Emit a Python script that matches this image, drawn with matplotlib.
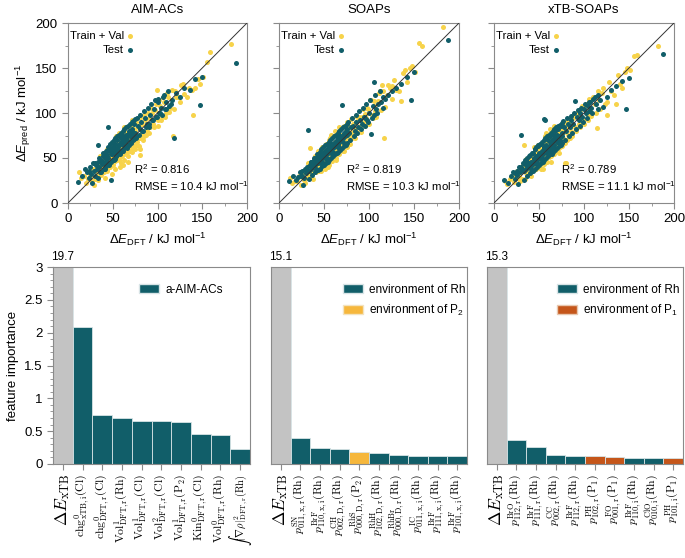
import matplotlib
matplotlib.use('Agg')
import matplotlib.pyplot as plt
from matplotlib.ticker import MultipleLocator
from matplotlib.patches import Patch

plt.rcParams['font.family'] = ['Liberation Sans', 'DejaVu Sans']
plt.rcParams['mathtext.fontset'] = 'custom'
plt.rcParams['mathtext.rm'] = 'Liberation Sans'
plt.rcParams['mathtext.it'] = 'Liberation Sans:italic'
plt.rcParams['mathtext.bf'] = 'Liberation Sans:bold'

# ---------------- data ----------------
titles = ['AIM-ACs', 'SOAPs', 'xTB-SOAPs']
r2_vals = ['0.816', '0.819', '0.789']
rmse_vals = ['10.4', '10.3', '11.1']

train_x = [12, 14, 18, 20, 22, 24, 25, 27, 28, 30,
           31, 32, 33, 34, 35, 36, 37, 38, 39, 40,
           40, 41, 42, 43, 44, 45, 45, 46, 47, 48,
           48, 49, 50, 50, 51, 52, 53, 54, 55, 55,
           56, 57, 58, 59, 60, 60, 61, 62, 63, 64,
           65, 65, 66, 67, 68, 69, 70, 70, 71, 72,
           73, 74, 75, 76, 77, 78, 79, 80, 81, 82,
           83, 85, 86, 88, 90, 92, 94, 95, 97, 99,
           101, 103, 105, 107, 110, 112, 114, 117, 120, 123,
           126, 130, 135, 140, 145, 148, 151, 155, 159, 182]

train_y_aim = [35, 28, 30, 22, 27, 33, 30, 24, 38, 27,
               36, 41, 30, 44, 33, 40, 31, 46, 37, 42,
               35, 48, 39, 45, 38, 52, 43, 40, 50, 44,
               55, 46, 42, 57, 49, 60, 47, 56, 50, 63,
               53, 48, 62, 55, 66, 52, 58, 64, 54, 70,
               60, 66, 57, 72, 63, 58, 74, 65, 61, 78,
               68, 62, 80, 70, 64, 84, 72, 60, 53, 77,
               88, 75, 92, 80, 95, 84, 100, 88, 103, 126,
               92, 108, 97, 112, 100, 118, 106, 74, 124, 118,
               131, 121, 128, 98, 138, 132, 140, 157, 168, 177]

train_y_soap = [28, 22, 25, 24, 30, 20, 29, 33, 26, 35,
                28, 37, 31, 61, 34, 30, 42, 36, 44, 39,
                46, 38, 45, 41, 50, 43, 48, 52, 44, 50,
                46, 55, 49, 53, 58, 48, 56, 51, 60, 54,
                59, 62, 53, 64, 57, 63, 66, 58, 68, 61,
                67, 70, 62, 72, 65, 74, 68, 76, 73, 66,
                78, 72, 80, 70, 82, 75, 84, 78, 76, 86,
                80, 90, 82, 92, 86, 96, 90, 99, 94, 104,
                115, 98, 108, 102, 113, 124, 131, 72, 120, 128,
                130, 126, 113, 148, 150, 152, 146, 178, 175, 196]

train_y_xtb = [24, 21, 27, 30, 23, 33, 28, 35, 30, 38,
               27, 36, 64, 40, 33, 44, 38, 46, 35, 48,
               42, 37, 50, 45, 40, 53, 47, 55, 44, 51,
               58, 47, 54, 45, 60, 50, 57, 62, 48, 65,
               56, 60, 52, 66, 58, 70, 55, 68, 63, 59,
               72, 62, 68, 75, 60, 70, 78, 66, 74, 80,
               70, 77, 66, 83, 72, 79, 45, 45, 84, 76,
               90, 80, 86, 94, 84, 98, 88, 103, 96, 92,
               108, 99, 112, 104, 118, 110, 83, 115, 122, 110,
               98, 124, 110, 132, 146, 150, 148, 163, 165, 175]

train_x2 = [26, 29, 32, 34, 36, 38, 40, 41, 43, 44,
            46, 47, 48, 49, 50, 51, 52, 53, 54, 55,
            56, 57, 58, 59, 60, 61, 62, 63, 64, 65,
            66, 67, 68, 69, 70, 71, 72, 73, 74, 75,
            76, 77, 78, 79, 80, 81, 82, 84, 85, 87,
            89, 91, 93, 96, 98, 100, 102, 104, 106, 108,
            111, 113, 116, 118, 121, 125, 128, 133, 138, 142,
            44, 52, 58, 63, 67, 72, 57, 62, 49, 54]

train_y2_aim = [38, 20, 37, 26, 52, 33, 47, 28, 55, 36,
                58, 40, 51, 64, 44, 61, 38, 66, 48, 60,
                72, 50, 69, 45, 74, 55, 71, 48, 79, 58,
                75, 52, 84, 62, 80, 57, 86, 64, 82, 60,
                90, 68, 86, 63, 94, 72, 88, 70, 98, 76,
                100, 78, 106, 84, 110, 86, 114, 92, 118, 96,
                122, 101, 126, 104, 118, 112, 132, 118, 126, 128,
                60, 70, 40, 84, 46, 92, 78, 42, 32, 74]

train_y2_soap = [34, 22, 45, 28, 40, 27, 52, 35, 58, 36,
                 50, 36, 62, 42, 57, 38, 66, 45, 59, 42,
                 70, 49, 63, 47, 74, 52, 68, 50, 79, 56,
                 72, 54, 83, 60, 76, 58, 86, 64, 80, 62,
                 90, 68, 84, 66, 93, 72, 88, 72, 97, 78,
                 96, 79, 105, 86, 106, 88, 114, 95, 113, 96,
                 122, 103, 124, 107, 131, 116, 137, 124, 144, 134,
                 58, 40, 76, 48, 84, 58, 72, 80, 62, 40]

train_y2_xtb = [36, 25, 42, 27, 49, 32, 46, 30, 56, 37,
                54, 38, 60, 41, 58, 40, 64, 44, 61, 43,
                68, 48, 66, 46, 72, 51, 70, 52, 76, 54,
                74, 55, 80, 58, 78, 60, 84, 62, 82, 63,
                88, 66, 86, 67, 90, 70, 89, 72, 95, 75,
                98, 80, 102, 84, 108, 88, 110, 92, 116, 97,
                118, 100, 125, 105, 128, 112, 134, 120, 142, 128,
                62, 38, 78, 46, 86, 56, 74, 82, 64, 38]

test_x = [11, 16, 19, 21, 23, 25, 26, 28, 29, 30,
          31, 32, 33, 34, 35, 36, 37, 38, 39, 40,
          41, 42, 43, 44, 45, 46, 47, 48, 49, 50,
          51, 52, 53, 54, 55, 56, 57, 58, 59, 60,
          61, 62, 63, 64, 65, 66, 67, 68, 69, 70,
          71, 72, 73, 74, 75, 76, 78, 80, 82, 84,
          86, 88, 90, 92, 94, 96, 98, 100, 102, 104,
          106, 108, 110, 113, 116, 118, 121, 125, 130, 136,
          142, 147, 150, 48, 58, 62, 66, 45, 188, 105]

test_y_aim = [23, 30, 38, 34, 28, 40, 32, 44, 36, 30,
              42, 38, 65, 46, 40, 35, 48, 43, 52, 45,
              38, 55, 47, 58, 50, 44, 60, 26, 55, 62,
              48, 66, 57, 52, 70, 60, 64, 56, 72, 66,
              58, 74, 68, 62, 76, 70, 65, 80, 74, 68,
              82, 76, 70, 88, 78, 72, 86, 82, 90, 80,
              95, 88, 84, 98, 92, 104, 96, 112, 100, 106,
              118, 104, 112, 108, 115, 72, 122, 118, 128, 126,
              138, 109, 140, 58, 76, 70, 61, 84, 156, 98]

test_y_soap = [24, 30, 26, 29, 34, 30, 36, 28, 38, 33,
               40, 81, 36, 42, 38, 46, 40, 44, 48, 42,
               50, 46, 44, 52, 48, 54, 50, 46, 56, 52,
               58, 54, 60, 56, 62, 58, 64, 60, 66, 62,
               62, 68, 64, 70, 66, 72, 68, 74, 70, 109,
               72, 78, 74, 80, 76, 82, 78, 84, 86, 80,
               90, 84, 92, 88, 96, 94, 92, 100, 77, 108,
               134, 104, 110, 112, 118, 116, 120, 124, 128, 132,
               140, 115, 146, 50, 56, 66, 62, 50, 181, 98]

test_y_xtb = [26, 22, 30, 34, 27, 36, 31, 40, 34, 76,
              38, 44, 36, 48, 42, 38, 50, 44, 40, 53,
              46, 42, 56, 49, 45, 60, 52, 48, 63, 55,
              50, 66, 58, 54, 93, 60, 92, 64, 58, 70,
              62, 74, 66, 60, 76, 70, 64, 80, 72, 68,
              82, 75, 70, 86, 78, 74, 84, 80, 88, 84,
              92, 88, 113, 96, 92, 100, 96, 104, 100, 108,
              112, 106, 116, 110, 120, 114, 107, 118, 126, 130,
              136, 104, 139, 52, 60, 58, 70, 48, 166, 102]

test_x2 = [24, 27, 30, 33, 35, 37, 39, 40, 42, 43,
           45, 46, 47, 48, 49, 50, 51, 52, 53, 54,
           55, 56, 57, 58, 59, 60, 61, 62, 63, 64,
           65, 66, 67, 68, 69, 70, 71, 72, 73, 74,
           75, 76, 77, 79, 81, 83, 85, 87, 89, 91,
           93, 95, 97, 99, 101, 103, 107, 109, 112, 115,
           44, 47, 50, 53, 56, 59, 62, 65, 68, 71,
           38, 41, 57, 60, 64, 52, 55, 48, 70, 66]

test_y2_aim = [36, 22, 44, 28, 50, 34, 56, 38, 58, 41,
               62, 42, 66, 46, 68, 48, 70, 49, 72, 52,
               74, 54, 76, 55, 78, 58, 80, 60, 82, 62,
               84, 64, 86, 65, 88, 67, 90, 70, 91, 71,
               93, 74, 95, 76, 98, 80, 102, 84, 106, 88,
               110, 92, 114, 96, 116, 100, 120, 104, 124, 110,
               52, 58, 62, 60, 64, 68, 70, 72, 78, 80,
               46, 50, 64, 67, 72, 58, 61, 54, 77, 74]

test_y2_soap = [30, 20, 38, 27, 46, 31, 50, 34, 54, 37,
                57, 38, 60, 41, 62, 42, 64, 44, 66, 46,
                68, 48, 70, 50, 72, 52, 74, 54, 76, 56,
                78, 57, 80, 59, 82, 61, 84, 63, 86, 65,
                88, 67, 90, 70, 94, 74, 98, 78, 102, 82,
                106, 86, 110, 90, 114, 94, 120, 100, 124, 106,
                50, 44, 55, 50, 61, 56, 67, 62, 73, 68,
                42, 38, 62, 57, 69, 49, 60, 45, 75, 63]

test_y2_xtb = [32, 21, 40, 26, 48, 30, 52, 33, 56, 36,
               60, 38, 62, 40, 64, 42, 66, 44, 68, 46,
               70, 48, 72, 50, 74, 52, 76, 54, 78, 55,
               80, 57, 82, 59, 84, 61, 86, 63, 87, 65,
               89, 67, 91, 70, 94, 74, 97, 78, 100, 82,
               103, 86, 106, 90, 110, 94, 112, 100, 118, 104,
               50, 44, 56, 50, 62, 56, 68, 62, 74, 68,
               44, 38, 63, 57, 70, 49, 61, 45, 76, 63]

train_ys = [train_y_aim, train_y_soap, train_y_xtb]
train_y2s = [train_y2_aim, train_y2_soap, train_y2_xtb]
test_ys = [test_y_aim, test_y_soap, test_y_xtb]
test_y2s = [test_y2_aim, test_y2_soap, test_y2_xtb]

# feature importance
feat_aim = ['$\\Delta E_{\\mathrm{xTB}}$',
            '$\\mathrm{chg}^0_{\\mathrm{xTB,i}}(\\mathrm{Cl})$',
            '$\\mathrm{chg}^0_{\\mathrm{DFT,r}}(\\mathrm{Cl})$',
            '$\\mathrm{Vol}^1_{\\mathrm{DFT,r}}(\\mathrm{Rh})$',
            '$\\mathrm{Vol}^1_{\\mathrm{DFT,r}}(\\mathrm{Cl})$',
            '$\\mathrm{Vol}^2_{\\mathrm{DFT,r}}(\\mathrm{Cl})$',
            '$\\mathrm{Vol}^1_{\\mathrm{DFT,r}}(\\mathrm{P}_2)$',
            '$\\mathrm{Kin}^0_{\\mathrm{DFT,r}}(\\mathrm{Cl})$',
            '$\\mathrm{Vol}^0_{\\mathrm{DFT,r}}(\\mathrm{Rh})$',
            '$\\int|\\nabla\\rho|^2_{\\mathrm{DFT,r}}(\\mathrm{Rh})$']
imp_aim = [19.7, 2.08, 0.74, 0.70, 0.66, 0.655, 0.635, 0.455, 0.445, 0.23]
grp_aim = ['xtb', 'Rh', 'Rh', 'Rh', 'Rh', 'Rh', 'Rh', 'Rh', 'Rh', 'Rh']

feat_soap = ['$\\Delta E_{\\mathrm{xTB}}$',
             '$p^{\\mathrm{SN}}_{011,\\mathrm{x,r}}(\\mathrm{Rh})$',
             '$p^{\\mathrm{BrF}}_{110,\\mathrm{x,i}}(\\mathrm{Rh})$',
             '$p^{\\mathrm{CH}}_{002,\\mathrm{D,r}}(\\mathrm{Rh})$',
             '$p^{\\mathrm{RhS}}_{000,\\mathrm{D,r}}(\\mathrm{P}_2)$',
             '$p^{\\mathrm{RhH}}_{102,\\mathrm{D,r}}(\\mathrm{Rh})$',
             '$p^{\\mathrm{RhBr}}_{000,\\mathrm{D,r}}(\\mathrm{Rh})$',
             '$p^{\\mathrm{IC}}_{011,\\mathrm{x,i}}(\\mathrm{Rh})$',
             '$p^{\\mathrm{BrF}}_{111,\\mathrm{x,i}}(\\mathrm{Rh})$',
             '$p^{\\mathrm{BrF}}_{101,\\mathrm{x,i}}(\\mathrm{Rh})$']
imp_soap = [15.1, 0.40, 0.24, 0.23, 0.19, 0.16, 0.13, 0.12, 0.12, 0.117]
grp_soap = ['xtb', 'Rh', 'Rh', 'Rh', 'P2', 'Rh', 'Rh', 'Rh', 'Rh', 'Rh']

feat_xtb = ['$\\Delta E_{\\mathrm{xTB}}$',
            '$p^{\\mathrm{BrO}}_{112,\\mathrm{r}}(\\mathrm{Rh})$',
            '$p^{\\mathrm{BrF}}_{111,\\mathrm{r}}(\\mathrm{Rh})$',
            '$p^{\\mathrm{CC}}_{002,\\mathrm{r}}(\\mathrm{Rh})$',
            '$p^{\\mathrm{BrF}}_{112,\\mathrm{r}}(\\mathrm{Rh})$',
            '$p^{\\mathrm{PH}}_{102,\\mathrm{r}}(\\mathrm{P}_1)$',
            '$p^{\\mathrm{FO}}_{001,\\mathrm{r}}(\\mathrm{P}_1)$',
            '$p^{\\mathrm{BrF}}_{110,\\mathrm{i}}(\\mathrm{Rh})$',
            '$p^{\\mathrm{ClO}}_{010,\\mathrm{i}}(\\mathrm{Rh})$',
            '$p^{\\mathrm{PH}}_{101,\\mathrm{i}}(\\mathrm{P}_1)$']
imp_xtb = [15.3, 0.36, 0.26, 0.137, 0.127, 0.12, 0.11, 0.096, 0.096, 0.096]
grp_xtb = ['xtb', 'Rh', 'Rh', 'Rh', 'Rh', 'P1', 'P1', 'Rh', 'Rh', 'P1']

feats = [feat_aim, feat_soap, feat_xtb]
imps = [imp_aim, imp_soap, imp_xtb]
grps = [grp_aim, grp_soap, grp_xtb]
clipped_labels = ['19.7', '15.1', '15.3']

# ---------------- style ----------------
YELLOW = '#f7d34a'
TEAL = '#115e69'
ORANGE_P2 = '#f6b73c'
ORANGE_P1 = '#c5561a'
GRAY = '#c3c3c3'
SPINE = '#8a8a8a'
colors = {'xtb': GRAY, 'Rh': TEAL, 'P2': ORANGE_P2, 'P1': ORANGE_P1}

W, H = 685, 558
fig = plt.figure(figsize=(W / 100, H / 100), dpi=100)


def px_axes(l, t, r, b):
    return fig.add_axes([l / W, 1 - b / H, (r - l) / W, (b - t) / H])


sc_boxes = [(68, 23, 247, 203), (279, 23, 459, 203), (494, 23, 674, 203)]
bar_boxes = [(53, 267, 250, 464), (271, 267, 467, 464), (487, 267, 683, 464)]
leg_x = [0.437, 0.367, 0.357]

for i in range(3):
    ax = px_axes(*sc_boxes[i])
    ax.scatter(train_x + train_x2, train_ys[i] + train_y2s[i], s=13,
               color=YELLOW, linewidths=0, label='Train + Val', zorder=2)
    ax.scatter(test_x + test_x2, test_ys[i] + test_y2s[i], s=13,
               color=TEAL, linewidths=0, label='Test', zorder=3)
    ax.plot([0, 200], [0, 200], color='#333333', lw=0.7, zorder=4)
    ax.set_xlim(0, 200)
    ax.set_ylim(0, 200)
    ax.xaxis.set_major_locator(MultipleLocator(50))
    ax.yaxis.set_major_locator(MultipleLocator(50))
    ax.xaxis.set_minor_locator(MultipleLocator(25))
    ax.yaxis.set_minor_locator(MultipleLocator(25))
    ax.tick_params(which='both', direction='out', color=SPINE, labelsize=9.5)
    ax.tick_params(which='major', length=4)
    ax.tick_params(which='minor', length=2.5)
    if i > 0:
        ax.tick_params(axis='y', labelleft=False)
    for sp in ax.spines.values():
        sp.set_color(SPINE)
        sp.set_linewidth(0.8)
    ax.set_title(titles[i], fontsize=9.5, pad=7)
    ax.set_xlabel('$\\mathit{\\Delta E}_{\\mathrm{DFT}}$ / kJ mol$^{-1}$',
                  fontsize=9.5, labelpad=4)
    if i == 0:
        ax.set_ylabel('$\\mathit{\\Delta E}_{\\mathrm{pred}}$ / kJ mol$^{-1}$',
                      fontsize=9.5, labelpad=2)
    ax.legend(loc='upper left', bbox_to_anchor=(0.01, 0.955), markerfirst=False,
              frameon=False, fontsize=8.2, handletextpad=0.1, borderaxespad=0.0,
              borderpad=0.0, labelspacing=0.3, handlelength=0.8)
    ax.text(74, 28, 'R$^2$ = %s\nRMSE = %s kJ mol$^{-1}$' % (r2_vals[i], rmse_vals[i]),
            fontsize=8.2, va='center', ha='left', linespacing=1.3)

for i in range(3):
    ax = px_axes(*bar_boxes[i])
    xs = list(range(len(imps[i])))
    bar_colors = [colors[g] for g in grps[i]]
    ax.bar(xs, imps[i], width=1.0, color=bar_colors, edgecolor='#d8e4e6',
           linewidth=0.6, zorder=2)
    ax.set_xlim(-0.5, len(xs) - 0.5)
    ax.set_ylim(0, 3)
    ax.set_xticks(xs)
    ax.set_xticklabels(feats[i], rotation=90, ha='center', va='top')
    labs = ax.get_xticklabels()
    for k, lab in enumerate(labs):
        lab.set_math_fontfamily('cm')
        if k == 0:
            lab.set_fontsize(12.5)
        elif k == len(labs) - 1 and i == 0:
            lab.set_fontsize(7.6)
        else:
            lab.set_fontsize(8.5)
    ax.tick_params(axis='x', direction='out', color=SPINE, length=4, pad=3)
    for sp in ax.spines.values():
        sp.set_color(SPINE)
        sp.set_linewidth(0.8)
    if i == 0:
        ax.set_yticks([0, 0.5, 1, 1.5, 2, 2.5, 3])
        ax.set_yticklabels(['0', '0.5', '1', '1.5', '2', '2.5', '3'])
        ax.yaxis.set_minor_locator(MultipleLocator(0.1))
        ax.tick_params(axis='y', which='both', direction='out', color=SPINE,
                       labelsize=9.5)
        ax.tick_params(axis='y', which='major', length=4)
        ax.tick_params(axis='y', which='minor', length=2)
        ax.set_ylabel('feature importance', fontsize=9.5, labelpad=4)
    else:
        ax.tick_params(axis='y', left=False, labelleft=False)
    ax.text(0, 3.06, clipped_labels[i], ha='center', va='bottom', fontsize=8.5,
            clip_on=False)
    if i == 0:
        handles = [Patch(facecolor=TEAL, edgecolor='#d8e4e6', label='a-AIM-ACs')]
    elif i == 1:
        handles = [Patch(facecolor=TEAL, edgecolor='#d8e4e6', label='environment of Rh'),
                   Patch(facecolor=ORANGE_P2, edgecolor='#f3e3c0', label='environment of P$_2$')]
    else:
        handles = [Patch(facecolor=TEAL, edgecolor='#d8e4e6', label='environment of Rh'),
                   Patch(facecolor=ORANGE_P1, edgecolor='#e8c8b0', label='environment of P$_1$')]
    ax.legend(handles=handles, loc='upper left', bbox_to_anchor=(leg_x[i], 0.915),
              frameon=False, fontsize=8.5, handlelength=1.7, handleheight=0.75,
              handletextpad=0.5, labelspacing=0.6, borderaxespad=0.0, borderpad=0.0)

fig.savefig('out.png', dpi=100)
